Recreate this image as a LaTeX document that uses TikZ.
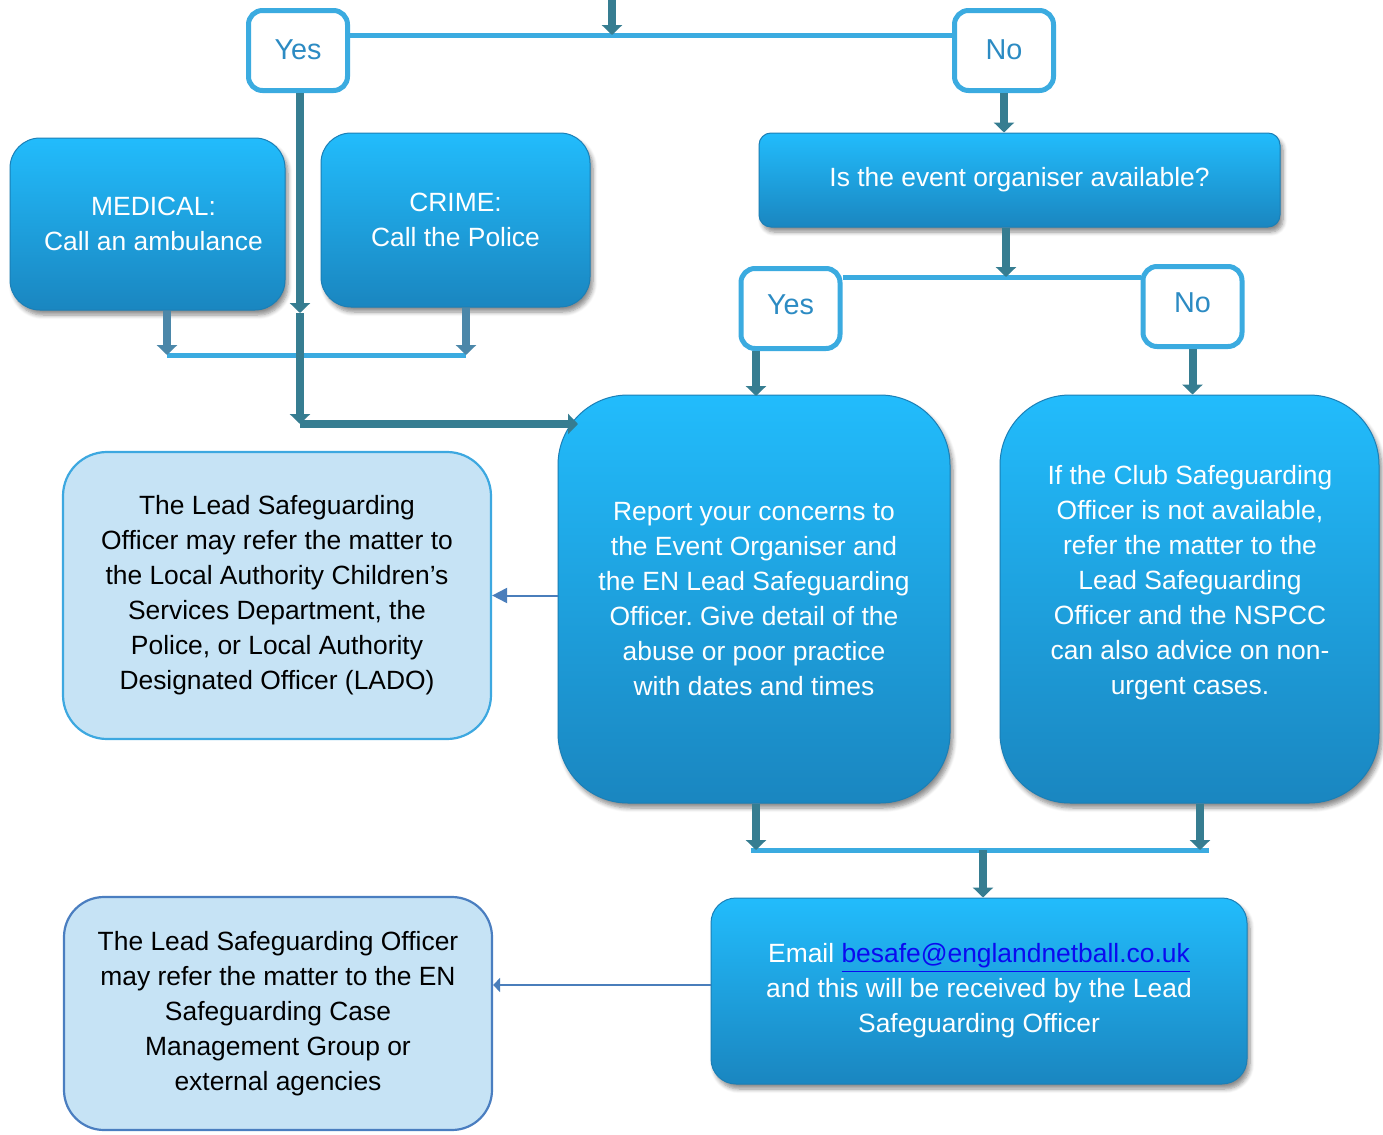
\documentclass[tikz,border=0pt]{standalone}
\usepackage{fontspec}
\setmainfont{Liberation Sans}
\usetikzlibrary{arrows.meta,shadows.blur}
\definecolor{boxtop}{HTML}{22BCFC}
\definecolor{boxbot}{HTML}{1A86C0}
\definecolor{boxedge}{HTML}{1B7FB6}
\definecolor{lb}{HTML}{3BABE0}
\definecolor{tealc}{HTML}{367D91}
\definecolor{steelc}{HTML}{4B87A9}
\definecolor{ytext}{HTML}{2C8BC3}
\definecolor{leadfill}{HTML}{C6E3F5}
\definecolor{leadedgeA}{HTML}{3DA8E0}
\definecolor{leadedgeB}{HTML}{4A7EC0}
\definecolor{thinarrow}{HTML}{4A7EBB}
\definecolor{linkc}{HTML}{0A0AF0}
\frenchspacing
\begin{document}
\begin{tikzpicture}[x=0.5pt,y=-0.5pt,
 txt/.style={font=\fontsize{13.2}{17.5}\selectfont, align=center},
 bluebox/.style={txt, text=white, top color=boxtop, bottom color=boxbot, draw=boxedge, line width=0.5pt,
   blur shadow={shadow xshift=1.5pt, shadow yshift=-2.5pt, shadow blur steps=6, shadow opacity=45}, inner sep=0pt},
 ynbox/.style={draw=lb, line width=2.5pt, fill=white, rounded corners=7pt, minimum width=49.5pt,
   minimum height=40pt, text=ytext, font=\fontsize{14.4}{16}\selectfont, inner sep=0pt},
 leadbox/.style={txt, text=black, fill=leadfill, line width=1.1pt, inner sep=0pt},
 tealarrow/.style={draw=tealc, line width=4pt, -{Triangle[width=10pt,length=5pt]}},
 steelarrow/.style={draw=steelc, line width=4pt, -{Triangle[width=10pt,length=5pt]}},
 lbline/.style={draw=lb, line width=2.5pt},
 thinarr/.style={draw=thinarrow, line width=1pt, -{Triangle[width=7.5pt,length=7.5pt]}},
 thinarrb/.style={draw=thinarrow, line width=1pt, -{Triangle[width=7pt,length=3.5pt]}}
]
\useasboundingbox (0,0) rectangle (1383,1135);

% boxes
\node[bluebox, rounded corners=15pt, minimum width=137.5pt, minimum height=86pt] (medical) at (147.5,224) {\hspace{6pt}MEDICAL:\\ \hspace{6pt}Call an ambulance};
\node[bluebox, rounded corners=15pt, minimum width=134.5pt, minimum height=87pt] (crime) at (455.5,220) {CRIME:\\Call the Police\hspace{3pt}};
\node[bluebox, rounded corners=6pt, minimum width=260.5pt, minimum height=47pt] (org) at (1019.5,180) {\raisebox{-1pt}{Is the event organiser available?}};
\node[bluebox, rounded corners=35pt, minimum width=196pt, minimum height=204pt] (report) at (754,599) {Report your concerns to\\the Event Organiser and\\the EN Lead Safeguarding\\Officer. Give detail of the\\abuse or poor practice\\with dates and times};
\node[bluebox, rounded corners=35pt, minimum width=189.5pt, minimum height=204pt] (club) at (1189.5,599) {};
\node[txt, text=white] (clubtext) at (1190,583) {If the Club Safeguarding\\Officer is not available,\\refer the matter to the\\Lead Safeguarding\\Officer and the NSPCC\\can also advice on non-\\urgent cases.};
\node[bluebox, rounded corners=12.5pt, minimum width=268pt, minimum height=93pt] (email) at (979,991) {Email {\color{linkc}\underline{besafe@englandnetball.co.uk}}\\and this will be received by the Lead\\Safeguarding Officer};
\node[leadbox, draw=leadedgeA, rounded corners=22pt, minimum width=214pt, minimum height=143.5pt] (lead1) at (277,595.5) {The Lead Safeguarding\\Officer may refer the matter to\\the Local Authority Children’s\\Services Department, the\\Police, or Local Authority\\Designated Officer (LADO)};
\node[leadbox, draw=leadedgeB, rounded corners=20pt, minimum width=214pt, minimum height=116.5pt] (lead2) at (278,1013.5) {The Lead Safeguarding Officer\\may refer the matter to the EN\\Safeguarding Case\\Management Group or\\external agencies};

\node[ynbox] (yes1) at (298,50.5) {\raisebox{0.5pt}{Yes}};
\node[ynbox] (no1) at (1004,50.5) {\raisebox{0.5pt}{No}};
\node[ynbox] (yes2) at (790.5,308.5) {\raisebox{3.5pt}{Yes}};
\node[ynbox] (no2) at (1192.5,306.5) {\raisebox{3.5pt}{No}};

% connectors
\coordinate (topin) at (612,0);
\coordinate (topj) at (612,35);
\draw[lbline] (yes1.east |- topj) -- (no1.west |- topj);
\draw[tealarrow] (topin) -- (topj);

\coordinate (ymid) at (300,313);
\coordinate (ycorner) at (300,424);
\coordinate (rin) at (578,424);
\coordinate (mj1) at (167,355);
\coordinate (mj2) at (466,355);
\draw[lbline] (mj1) -- (mj2);
\draw[steelarrow] (medical.south -| mj1) -- (mj1);
\draw[steelarrow] (crime.south -| mj2) -- (mj2);
\draw[tealarrow] (yes1.south -| ymid) -- (ymid);
\draw[tealarrow] (ymid) -- (ycorner);
\draw[tealarrow] (ycorner) -- (rin);

\draw[tealarrow] (no1.south) -- (no1.south |- org.north);
\coordinate (oj) at (1006,277);
\draw[lbline] (yes2.east |- oj) -- (no2.west |- oj);
\draw[tealarrow] (org.south -| oj) -- (oj);
\coordinate (ra) at (756,396);
\draw[tealarrow] (yes2.south -| ra) -- (ra);
\draw[tealarrow] (no2.south) -- (no2.south |- club.north);

\draw[thinarr] (report.west |- lead1.east) -- (lead1.east);

\coordinate (bj1) at (756,850);
\coordinate (bj2) at (1200,850);
\coordinate (bj) at (983,850);
\draw[lbline] ([xshift=-2.5pt]bj1) -- ([xshift=4.5pt]bj2);
\draw[tealarrow] (report.south -| bj1) -- (bj1);
\draw[tealarrow] (club.south -| bj2) -- (bj2);
\draw[tealarrow] (bj) -- (bj |- email.north);

\coordinate (ea) at (600,985);
\draw[thinarrb] (email.west |- ea) -- (lead2.east |- ea);
\end{tikzpicture}
\end{document}
